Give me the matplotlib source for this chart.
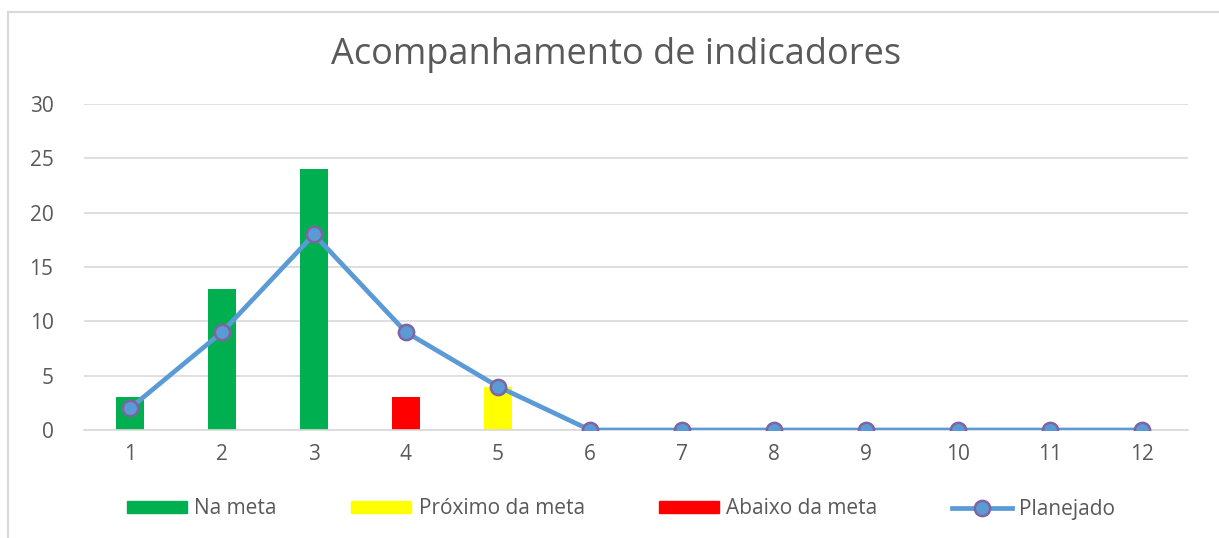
import matplotlib
matplotlib.use("Agg")
import matplotlib.pyplot as plt
import numpy as np
from matplotlib.lines import Line2D
from matplotlib.patches import Patch

categories = [str(i) for i in range(1, 13)]
na_meta = [3, 13, 24, 0, 0, 0, 0, 0, 0, 0, 0, 0]
proximo_meta = [0, 0, 0, 0, 4, 0, 0, 0, 0, 0, 0, 0]
abaixo_meta = [0, 0, 0, 3, 0, 0, 0, 0, 0, 0, 0, 0]
planejado = [2, 9, 18, 9, 4, 0, 0, 0, 0, 0, 0, 0]
yticks = [0, 5, 10, 15, 20, 25, 30]

plt.rcParams['font.family'] = ['Open Sans', 'DejaVu Sans']
W, H = 1219, 538
fig = plt.figure(figsize=(W / 100, H / 100), dpi=100)
ax = fig.add_axes([84 / W, (H - 430) / H, (1188 - 84) / W, (430 - 104) / H])

x = np.arange(1, 13)
bw = 0.31
ax.bar(x, na_meta, width=bw, color='#00B050', zorder=2)
ax.bar(x, proximo_meta, width=bw, color='#FFFF00', zorder=2)
ax.bar(x, abaixo_meta, width=bw, color='#FF0000', zorder=2)
ax.plot(x, planejado, color='#5B9BD5', lw=3.4, marker='o', ms=11,
        mfc='#5B9BD5', mec='#8064A2', mew=1.8, zorder=3)

ax.set_xlim(0.5, 12.5)
ax.set_ylim(0, 30)
ax.set_yticks(yticks)
ax.set_xticks(x)
ax.set_xticklabels(categories)
ax.grid(axis='y', color='#D9D9D9', lw=1.2, zorder=0)
ax.set_axisbelow(True)
for s in ['top', 'right', 'left']:
    ax.spines[s].set_visible(False)
ax.spines['bottom'].set_color('#D9D9D9')
ax.spines['bottom'].set_linewidth(1.2)
ax.tick_params(axis='both', length=0, labelsize=15, colors='#595959')
ax.tick_params(axis='y', pad=22)
ax.tick_params(axis='x', pad=10)

fig.text(616 / W, 1 - 55 / H, 'Acompanhamento de indicadores', ha='center', va='center',
         fontsize=26, color='#595959')

handles = [Patch(color='#00B050'), Patch(color='#FFFF00'), Patch(color='#FF0000'),
           Line2D([0], [0], color='#5B9BD5', lw=3.4, marker='o', ms=11,
                  mfc='#5B9BD5', mec='#8064A2', mew=1.8)]
labels = ['Na meta', 'Próximo da meta', 'Abaixo da meta', 'Planejado']
leg = fig.legend(handles, labels, loc='center', bbox_to_anchor=(621 / W, 1 - 509 / H),
                 ncol=4, frameon=False, fontsize=15, handlelength=2.9, handleheight=0.5,
                 columnspacing=3.55, handletextpad=0.35)
for t in leg.get_texts():
    t.set_color('#595959')

fig.add_artist(Line2D([8 / W, 8 / W], [0, 1 - 12 / H], transform=fig.transFigure,
                      color='#D9D9D9', lw=1.5))
fig.add_artist(Line2D([8 / W, 1], [1 - 12 / H, 1 - 12 / H], transform=fig.transFigure,
                      color='#D9D9D9', lw=1.5))

fig.savefig('out.png', dpi=100)
